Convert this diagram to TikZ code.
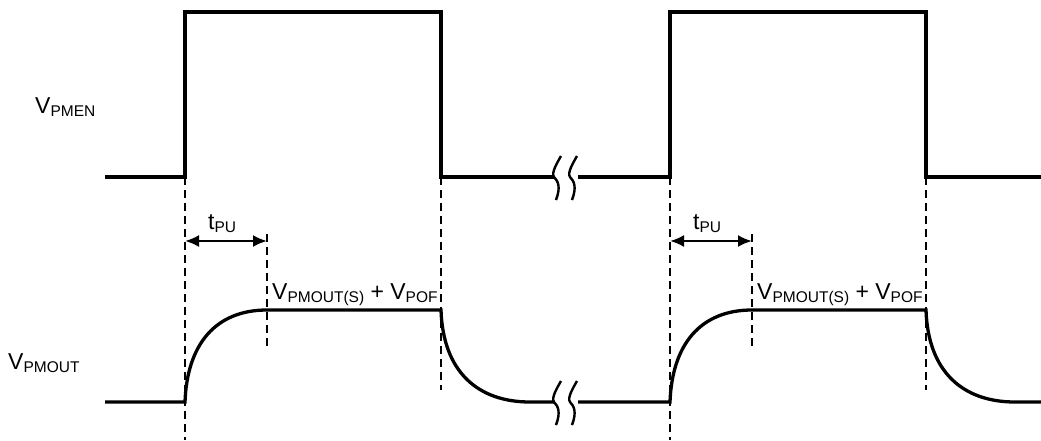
\documentclass[tikz,border=0pt]{standalone}
\usepackage{fontspec}
\setmainfont{Liberation Sans}
\usetikzlibrary{arrows.meta}
\newcommand{\sbs}[1]{\raisebox{-3.5pt}{\fontsize{15.5}{17}\selectfont #1}}
\begin{document}
\begin{tikzpicture}[x=1pt,y=-1pt,
  wave/.style={line width=3.3pt,line join=miter},
  guide/.style={line width=1.5pt,dash pattern=on 8pt off 5pt},
  brk/.style={line width=2.4pt},
  dim/.style={line width=2.2pt,{Latex[length=14pt,width=12pt]}-{Latex[length=14pt,width=12pt]}},
  lbl/.style={inner sep=0pt,font=\fontsize{23}{26}\selectfont}]
\useasboundingbox (0,0) rectangle (1041,440);
% top waveform coordinates
\coordinate (t0) at (105,177);
\coordinate (t1) at (185,177);
\coordinate (t2) at (185,12);
\coordinate (t3) at (441,12);
\coordinate (t4) at (441,177);
\coordinate (t5) at (554,177);
\coordinate (t6) at (578,177);
\coordinate (t7) at (670,177);
\coordinate (t8) at (670,12);
\coordinate (t9) at (926,12);
\coordinate (t10) at (926,177);
\coordinate (t11) at (1041,177);
\draw[wave] (t0) -- (t1) -- (t2) -- (t3) -- (t4) -- (t5);
\draw[wave] (t6) -- (t7) -- (t8) -- (t9) -- (t10) -- (t11);
% bottom waveform
\coordinate (b0) at (105,402);
\coordinate (b1) at (185,402);
\coordinate (b2) at (267,310);
\coordinate (b3) at (441,310);
\coordinate (b4) at (530,402);
\coordinate (b5) at (554,402);
\coordinate (b6) at (578,402);
\coordinate (b7) at (670,402);
\coordinate (b8) at (752,310);
\coordinate (b9) at (926,310);
\coordinate (b10) at (1015,402);
\coordinate (b11) at (1041,402);
\draw[wave] (b0) -- (b1) .. controls (187,345) and (215,310) .. (b2) -- (b3)
  .. controls (443,372) and (478,402) .. (b4) -- (b5);
\draw[wave] (b6) -- (b7) .. controls (672,345) and (700,310) .. (b8) -- (b9)
  .. controls (928,372) and (963,402) .. (b10) -- (b11);
% break symbols
\foreach \y in {177,402}{
  \foreach \x in {554,570}{
    \draw[brk] (\x+7,\y-21) .. controls (\x+3,\y-14) and (\x-3,\y-4) .. (\x,\y)
      .. controls (\x+4,\y+4) and (\x+7,\y+10) .. (\x+2,\y+23);
  }
}
% guide lines
\coordinate (g1a) at (185,177); \coordinate (g1b) at (185,440);
\coordinate (g2a) at (267,234); \coordinate (g2b) at (267,346);
\coordinate (g3a) at (441,177); \coordinate (g3b) at (441,390);
\coordinate (g4a) at (670,177); \coordinate (g4b) at (670,440);
\coordinate (g5a) at (752,234); \coordinate (g5b) at (752,346);
\coordinate (g6a) at (926,177); \coordinate (g6b) at (926,390);
\draw[guide] (g1a) -- (g1b);
\draw[guide] (g2a) -- (g2b);
\draw[guide] (g3a) -- (g3b);
\draw[guide] (g4a) -- (g4b);
\draw[guide] (g5a) -- (g5b);
\draw[guide] (g6a) -- (g6b);
% dimension arrows
\coordinate (d1a) at (185,241); \coordinate (d1b) at (267,241);
\coordinate (d2a) at (670,241); \coordinate (d2b) at (752,241);
\draw[dim] (d1a) -- (d1b);
\draw[dim] (d2a) -- (d2b);
% labels
\node[lbl,anchor=base west] (tpu1) at (208,229) {t\sbs{PU}};
\node[lbl,anchor=base west] (tpu2) at (693,229) {t\sbs{PU}};
\node[lbl,anchor=base west] (lv1) at (272,299) {V\sbs{PMOUT(S)} + V\sbs{POF}};
\node[lbl,anchor=base west] (lv2) at (757,299) {V\sbs{PMOUT(S)} + V\sbs{POF}};
\node[lbl,anchor=base west] (pmen) at (35,113) {V\sbs{PMEN}};
\node[lbl,anchor=base west] (pmout) at (8,369) {V\sbs{PMOUT}};
\end{tikzpicture}
\end{document}
